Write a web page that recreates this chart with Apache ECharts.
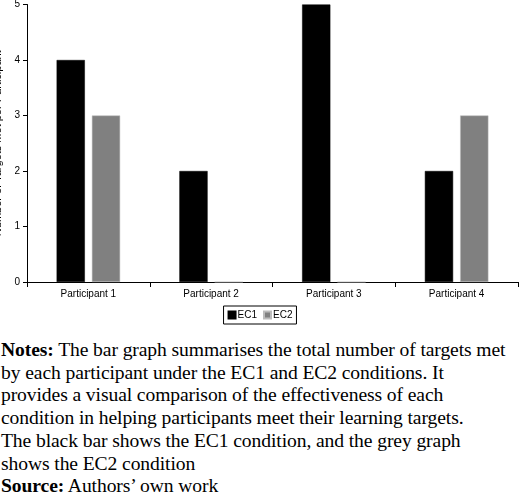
<!DOCTYPE html>
<html><head><meta charset="utf-8">
<script src="https://cdn.jsdelivr.net/npm/echarts@6/dist/echarts.min.js"></script>
<style>
body{margin:0;background:#fff;width:520px;height:502px;overflow:hidden}
#c{width:520px;height:330px}
#t{font-family:"Liberation Serif","Times New Roman",serif;font-size:19.6px;line-height:22.7px;color:#000;padding:0 0 0 1px;margin-top:9px;white-space:nowrap;letter-spacing:-0.1px}
</style></head><body>
<div id="c"></div>
<div id="t"><b>Notes:</b> The bar graph summarises the total number of targets met<br>by each participant under the EC1 and EC2 conditions. It<br>provides a visual comparison of the effectiveness of each<br>condition in helping participants meet their learning targets.<br>The black bar shows the EC1 condition, and the grey graph<br>shows the EC2 condition<br><b>Source:</b> Authors’ own work</div>
<script>
const categories=["Participant 1","Participant 2","Participant 3","Participant 4"];
const ec1=[4,2,5,2];
const ec2=[3,0,0,3];
const ch=echarts.init(document.getElementById('c'));
const f="Arial, 'Liberation Sans', sans-serif";
ch.setOption({
 animation:false,
 textStyle:{fontFamily:f},
 grid:{left:27,right:2,top:4.5,bottom:48,containLabel:false,outerBoundsMode:'none'},
 legend:{bottom:6,left:'center',itemWidth:7,itemHeight:7,itemGap:6,icon:'rect',
  borderColor:'#000',borderWidth:1,padding:[4,4,4,4],
  textStyle:{fontSize:10,color:'#000',padding:[0,0,0,-3]}, data:['EC1','EC2']},
 xAxis:{type:'category',data:categories,
  axisLine:{lineStyle:{color:'#000'}},axisTick:{show:true,lineStyle:{color:'#000'}},
  axisLabel:{color:'#000',fontSize:10,margin:7}},
 yAxis:{type:'value',min:0,max:5,interval:1,
  name:'Number of Targets Met per Participant',nameLocation:'middle',nameGap:17,
  nameTextStyle:{fontSize:11,color:'#000'},
  axisLine:{show:true,lineStyle:{color:'#000'}},axisTick:{show:true,length:4,lineStyle:{color:'#000'}},
  splitLine:{show:false},axisLabel:{color:'#000',fontSize:10,margin:7}},
 series:[
  {name:'EC1',type:'bar',data:ec1,barWidth:'23%',barGap:'25%',itemStyle:{color:'#000',borderColor:'#000',borderWidth:0.5}},
  {name:'EC2',type:'bar',data:ec2,barWidth:'23%',itemStyle:{color:'#808080',borderColor:'#bbb',borderWidth:0.5}}
 ]
});
</script></body></html>
